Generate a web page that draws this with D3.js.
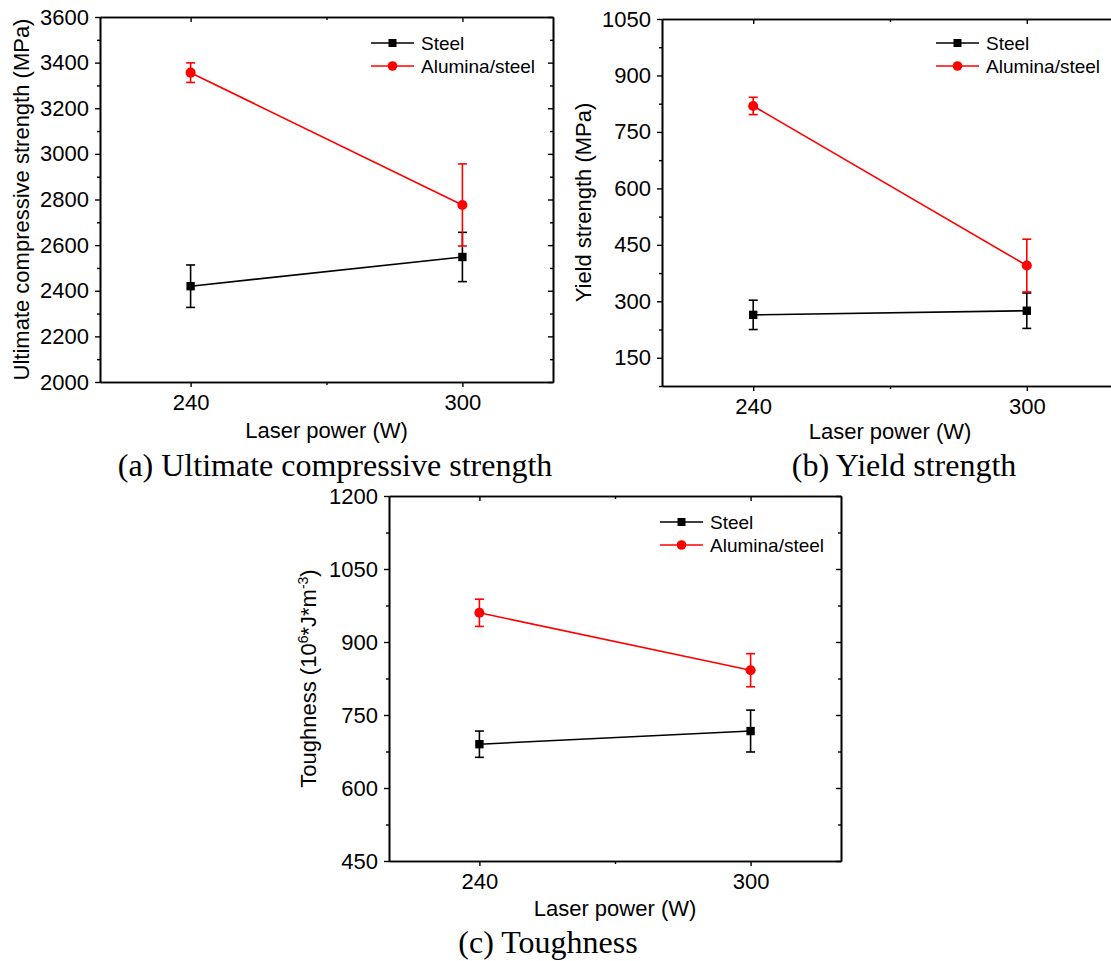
<!DOCTYPE html>
<html>
<head>
<meta charset="utf-8">
<script src="https://cdn.jsdelivr.net/npm/d3@7"></script>
<style>
  body { margin: 0; background: #fff; }
  svg { display: block; }
  .tick text { font-family: "Liberation Sans", Arial, sans-serif; }
</style>
</head>
<body>
<script>
// data
var power = [240, 300];
var seriesNames = ['Steel', 'Alumina/steel'];

var ucsSteel = [2420, 2548];
var ucsSteelErr = [93, 108];
var ucsAlumina = [3356, 2776];
var ucsAluminaErr = [43, 180];

var ysSteel = [264, 275];
var ysSteelErr = [39, 47];
var ysAlumina = [819, 395];
var ysAluminaErr = [23, 70];

var tSteel = [690, 717];
var tSteelErr = [27, 43];
var tAlumina = [960, 842];
var tAluminaErr = [28, 34];

var xTicks = [240, 300];
var xMinorTicks = [270];
var ucsTicks = [2000, 2200, 2400, 2600, 2800, 3000, 3200, 3400, 3600];
var ucsMinor = [2100, 2300, 2500, 2700, 2900, 3100, 3300, 3500];
var ysTicks = [150, 300, 450, 600, 750, 900, 1050];
var ysMinor = [75, 225, 375, 525, 675, 825, 975];
var tTicks = [450, 600, 750, 900, 1050, 1200];
var tMinor = [525, 675, 825, 975, 1125];

var colors = ['#000000', '#ff0000'];
var sansFont = '"Liberation Sans", Arial, sans-serif';
var serifFont = '"Liberation Serif", "Times New Roman", serif';

var svg = d3.select('body').append('svg')
  .attr('width', 1111)
  .attr('height', 961);

var drawPanel = function(p) {
  var x = d3.scaleLinear().domain([220, 320]).range([p.left, p.right]);
  var y = d3.scaleLinear().domain(p.yDomain).range([p.bottom, p.top]);
  var g = svg.append('g');

  var styleAxis = function(sel) {
    sel.select('.domain').attr('stroke', '#000').attr('stroke-width', 1.6);
    sel.selectAll('.tick line').attr('stroke', '#000').attr('stroke-width', 1.4);
    sel.selectAll('.tick text').attr('fill', '#000').style('font-size', '22px');
  };

  // left axis
  g.append('g').attr('transform', 'translate(' + p.left + ',0)')
    .call(d3.axisLeft(y).tickValues(p.yTicks).tickSize(5).tickSizeOuter(0).tickPadding(6).tickFormat(d3.format('d')))
    .call(styleAxis);
  g.append('g').attr('transform', 'translate(' + p.left + ',0)')
    .call(d3.axisLeft(y).tickValues(p.yMinor).tickSize(3).tickSizeOuter(0).tickFormat(''))
    .call(styleAxis);
  // right axis, ticks inside
  g.append('g').attr('transform', 'translate(' + p.right + ',0)')
    .call(d3.axisLeft(y).tickValues(p.yTicks).tickSize(5).tickSizeOuter(0).tickFormat(''))
    .call(styleAxis);
  g.append('g').attr('transform', 'translate(' + p.right + ',0)')
    .call(d3.axisLeft(y).tickValues(p.yMinor).tickSize(3).tickSizeOuter(0).tickFormat(''))
    .call(styleAxis);
  // bottom axis
  g.append('g').attr('transform', 'translate(0,' + p.bottom + ')')
    .call(d3.axisBottom(x).tickValues(xTicks).tickSize(5).tickSizeOuter(0).tickPadding(7))
    .call(styleAxis);
  g.append('g').attr('transform', 'translate(0,' + p.bottom + ')')
    .call(d3.axisBottom(x).tickValues(xMinorTicks).tickSize(3).tickSizeOuter(0).tickFormat(''))
    .call(styleAxis);
  // top axis, ticks inside
  g.append('g').attr('transform', 'translate(0,' + p.top + ')')
    .call(d3.axisBottom(x).tickValues(xTicks).tickSize(5).tickSizeOuter(0).tickFormat(''))
    .call(styleAxis);
  g.append('g').attr('transform', 'translate(0,' + p.top + ')')
    .call(d3.axisBottom(x).tickValues(xMinorTicks).tickSize(3).tickSizeOuter(0).tickFormat(''))
    .call(styleAxis);

  // series
  p.series.forEach(function(s, k) {
    var pts = power.map(function(d, i) { return { x: d, v: s.values[i], e: s.errors[i] }; });
    var c = colors[k];
    g.append('path').datum(pts)
      .attr('fill', 'none').attr('stroke', c).attr('stroke-width', 1.6)
      .attr('d', d3.line().x(function(d) { return x(d.x); }).y(function(d) { return y(d.v); }));
    var eb = g.selectAll(null).data(pts).enter().append('g').attr('stroke', c).attr('stroke-width', 1.6);
    eb.append('line')
      .attr('x1', function(d) { return x(d.x); }).attr('x2', function(d) { return x(d.x); })
      .attr('y1', function(d) { return y(d.v - d.e); }).attr('y2', function(d) { return y(d.v + d.e); });
    eb.append('line')
      .attr('x1', function(d) { return x(d.x) - 4.5; }).attr('x2', function(d) { return x(d.x) + 4.5; })
      .attr('y1', function(d) { return y(d.v + d.e); }).attr('y2', function(d) { return y(d.v + d.e); });
    eb.append('line')
      .attr('x1', function(d) { return x(d.x) - 4.5; }).attr('x2', function(d) { return x(d.x) + 4.5; })
      .attr('y1', function(d) { return y(d.v - d.e); }).attr('y2', function(d) { return y(d.v - d.e); });
    var sym = d3.symbol().type(k === 0 ? d3.symbolSquare : d3.symbolCircle).size(k === 0 ? 70 : 80);
    g.selectAll(null).data(pts).enter().append('path')
      .attr('d', sym)
      .attr('fill', c)
      .attr('transform', function(d) { return 'translate(' + x(d.x) + ',' + y(d.v) + ')'; });
  });

  // legend
  seriesNames.forEach(function(name, k) {
    var ly = p.legendY + k * 23;
    var lg = g.append('g');
    lg.append('line').attr('x1', p.legendX).attr('x2', p.legendX + 43)
      .attr('y1', ly).attr('y2', ly).attr('stroke', colors[k]).attr('stroke-width', 1.6);
    lg.append('path')
      .attr('d', d3.symbol().type(k === 0 ? d3.symbolSquare : d3.symbolCircle).size(k === 0 ? 64 : 72))
      .attr('fill', colors[k])
      .attr('transform', 'translate(' + (p.legendX + 21.5) + ',' + ly + ')');
    lg.append('text').attr('x', p.legendX + 50).attr('y', ly).attr('dy', '0.35em')
      .style('font-family', sansFont).style('font-size', '19px').text(name);
  });

  // x title
  g.append('text')
    .attr('x', (p.left + p.right) / 2).attr('y', p.xTitleY)
    .attr('text-anchor', 'middle')
    .style('font-family', sansFont).style('font-size', '22px')
    .text('Laser power (W)');

  // y title
  var yt = g.append('text')
    .attr('transform', 'translate(' + p.yTitleX + ',' + ((p.top + p.bottom) / 2) + ') rotate(-90)')
    .attr('text-anchor', 'middle')
    .style('font-family', sansFont).style('font-size', '22px');
  p.yTitle.forEach(function(part) {
    var ts = yt.append('tspan').text(part.t);
    if (part.sup) {
      ts.attr('baseline-shift', 'super').style('font-size', '14px');
    }
  });

  // caption
  svg.append('text')
    .attr('x', p.captionX).attr('y', p.captionY)
    .attr('text-anchor', 'middle')
    .style('font-family', serifFont).style('font-size', '32px')
    .text(p.caption);
};

drawPanel({
  left: 100, right: 553, top: 17, bottom: 382,
  yDomain: [2000, 3600], yTicks: ucsTicks, yMinor: ucsMinor,
  series: [{ values: ucsSteel, errors: ucsSteelErr }, { values: ucsAlumina, errors: ucsAluminaErr }],
  legendX: 371, legendY: 43,
  yTitleX: 29, xTitleY: 438,
  yTitle: [{ t: 'Ultimate compressive strength (MPa)' }],
  caption: '(a) Ultimate compressive strength', captionX: 335, captionY: 476
});

drawPanel({
  left: 662, right: 1118, top: 19, bottom: 386,
  yDomain: [75, 1050], yTicks: ysTicks, yMinor: ysMinor,
  series: [{ values: ysSteel, errors: ysSteelErr }, { values: ysAlumina, errors: ysAluminaErr }],
  legendX: 936, legendY: 43,
  yTitleX: 591, xTitleY: 439,
  yTitle: [{ t: 'Yield strength (MPa)' }],
  caption: '(b) Yield strength', captionX: 904, captionY: 476
});

drawPanel({
  left: 389, right: 841, top: 496, bottom: 861,
  yDomain: [450, 1200], yTicks: tTicks, yMinor: tMinor,
  series: [{ values: tSteel, errors: tSteelErr }, { values: tAlumina, errors: tAluminaErr }],
  legendX: 660, legendY: 522,
  yTitleX: 316, xTitleY: 916,
  yTitle: [{ t: 'Toughness (10' }, { t: '6', sup: true }, { t: '*J*m' }, { t: '-3', sup: true }, { t: ')' }],
  caption: '(c) Toughness', captionX: 548, captionY: 953
});
</script>
</body>
</html>
